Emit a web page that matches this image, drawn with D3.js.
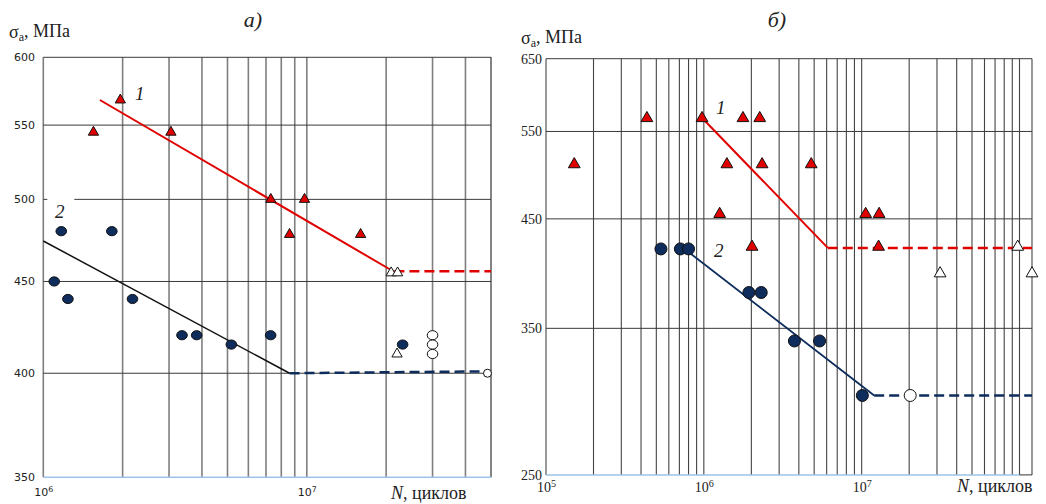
<!DOCTYPE html>
<html>
<head>
<meta charset="utf-8">
<script src="https://cdn.jsdelivr.net/npm/d3@7"></script>
<style>
  body { margin: 0; background: #fff; }
  svg { display: block; }
</style>
</head>
<body>
<div class="container"></div>
<script>
// ---- panel а) data ----
const aRedN = [1.55e6, 1.96e6, 3.05e6, 7.3e6, 9.8e6, 8.6e6, 1.6e7];
const aRedS = [545, 568, 545, 500, 500, 478, 478];
const aRedOpenN = [2.09e7, 2.21e7, 2.2e7];
const aRedOpenS = [455, 455, 410];
const aBlueN = [1.1e6, 1.17e6, 1.24e6, 1.82e6, 2.18e6, 3.36e6, 3.82e6, 5.17e6, 7.29e6, 2.31e7];
const aBlueS = [450, 480, 440, 480, 440, 420, 420, 415, 420, 415];
const aBlueOpenN = [3e7, 3e7, 3e7];
const aBlueOpenS = [420, 415, 410];
const aSmallOpenN = [4.85e7];
const aSmallOpenS = [400];
const aLine1N = [1.64e6, 2.15e7];
const aLine1S = [568, 455.5];
const aDash1N = [2.15e7, 5e7];
const aDash1S = [456, 456];
const aLine2N = [1e6, 8.6e6];
const aLine2S = [474, 400];
const aDash2N = [8.6e6, 4.85e7];
const aDash2S = [400, 401];
const aYTicks = [350, 400, 450, 500, 550, 600];
const aDecades = [1e6, 1e7];

// ---- panel б) data ----
const bRedN = [4.36e5, 9.74e5, 1.77e6, 2.26e6, 1.51e5, 1.4e6, 2.34e6, 4.79e6, 1.26e6, 1.06e7, 1.29e7, 2.02e6, 1.28e7];
const bRedS = [567, 567, 567, 567, 510, 510, 510, 510, 455, 455, 455, 422, 422];
const bRedOpenN = [9.74e7, 3.14e7, 1.2e8];
const bRedOpenS = [422, 397, 397];
const bBlueN = [5.35e5, 7.1e5, 8.0e5, 1.93e6, 2.31e6, 3.75e6, 5.41e6, 1.01e7];
const bBlueS = [420, 420, 420, 380, 380, 340, 340, 300];
const bBlueOpenN = [2.03e7];
const bBlueOpenS = [300];
const bLine1N = [1e6, 6.1e6];
const bLine1S = [565, 421];
const bDash1N = [6.1e6, 1.2e8];
const bDash1S = [421, 421];
const bLine2N = [8.0e5, 1.2e7];
const bLine2S = [417, 300];
const bDash2N = [1.2e7, 1.2e8];
const bDash2S = [300, 300];
const bYTicks = [250, 350, 450, 550, 650];
const bDecades = [1e5, 1e6, 1e7];

const width = 1046;
const height = 504;
const serif = '"Liberation Serif", "DejaVu Serif", serif';
const sans = '"DejaVu Sans", Verdana, sans-serif';
const red = "#e00000";
const navy = "#0e2c5c";

const svg = d3.select(".container")
  .append("svg")
  .attr("width", width)
  .attr("height", height)
  .attr("viewBox", `0 0 ${width} ${height}`);

const zip = (a, b) => a.map((v, i) => [v, b[i]]);

function drawPanel(p) {
  const x = d3.scaleLog().domain(p.xDomain).range(p.xRange);
  const y = d3.scaleLog().domain(p.yDomain).range(p.yRange);
  const g = svg.append("g");
  const [x0, x1] = p.xRange;
  const [yb, yt] = p.yRange;

  // vertical grid
  g.selectAll(".vg")
    .data(x.ticks().filter(t => x(t) > x0 + 1))
    .join("line")
    .attr("x1", d => x(d)).attr("x2", d => x(d))
    .attr("y1", yt).attr("y2", yb)
    .attr("stroke", p.vColor)
    .attr("stroke-width", p.vWidth);
  // left & right border
  g.append("line").attr("x1", x0).attr("x2", x0).attr("y1", yt).attr("y2", yb)
    .attr("stroke", p.vColor).attr("stroke-width", p.vWidth);
  g.append("line").attr("x1", x1).attr("x2", x1).attr("y1", yt).attr("y2", yb)
    .attr("stroke", p.vColor).attr("stroke-width", p.vWidth);

  // horizontal grid
  g.selectAll(".hg")
    .data(p.yTicks.slice(1))
    .join("line")
    .attr("x1", x0).attr("x2", x1)
    .attr("y1", d => y(d)).attr("y2", d => y(d))
    .attr("stroke", "#3a3a3a")
    .attr("stroke-width", 1);

  // bottom axis (light blue)
  g.append("line")
    .attr("x1", x0).attr("x2", p.axisEnd ? x(p.axisEnd) : x1)
    .attr("y1", yb).attr("y2", yb)
    .attr("stroke", "#9dc3e6").attr("stroke-width", 1.5);
  if (p.axisEnd) {
    g.append("line")
      .attr("x1", x(p.axisEnd)).attr("x2", x1)
      .attr("y1", yb).attr("y2", yb)
      .attr("stroke", "#333").attr("stroke-width", 1);
  }

  // white box behind curve label 2
  if (p.label2Box) {
    g.append("rect")
      .attr("x", x0 + 4).attr("y", y(p.label2Box) - 4)
      .attr("width", 27).attr("height", 8)
      .attr("fill", "#fff");
  }

  // y tick labels
  g.selectAll(".yl")
    .data(p.yTicks)
    .join("text")
    .attr("x", p.yLabelX)
    .attr("y", d => y(d))
    .attr("dy", "0.35em")
    .attr("text-anchor", "end")
    .style("font-family", p.tickFont)
    .style("font-size", p.tickSize)
    .attr("fill", "#222")
    .text(d => d);

  // x decade labels
  const xl = g.selectAll(".xl")
    .data(p.decades)
    .join("text")
    .attr("x", d => x(d) - 9)
    .attr("y", p.xLabelY)
    .style("font-family", p.tickFont)
    .style("font-size", p.tickSize)
    .attr("fill", "#222");
  xl.append("tspan").text("10");
  xl.append("tspan")
    .attr("dy", "-0.45em")
    .style("font-size", "0.72em")
    .text(d => Math.round(Math.log10(d)));

  // fitted lines
  const line = d3.line().x(d => x(d[0])).y(d => y(d[1]));
  g.append("path").datum(zip(p.line1N, p.line1S)).attr("d", line)
    .attr("fill", "none").attr("stroke", red).attr("stroke-width", 2);
  g.append("path").datum(zip(p.dash1N, p.dash1S)).attr("d", line)
    .attr("fill", "none").attr("stroke", red).attr("stroke-width", 2.5)
    .attr("stroke-dasharray", "10,5");
  g.append("path").datum(zip(p.line2N, p.line2S)).attr("d", line)
    .attr("fill", "none").attr("stroke", p.line2Color).attr("stroke-width", p.line2Width);
  g.append("path").datum(zip(p.dash2N, p.dash2S)).attr("d", line)
    .attr("fill", "none").attr("stroke", navy).attr("stroke-width", 2.5)
    .attr("stroke-dasharray", "10,5");

  // markers
  const tri = d3.symbol(d3.symbolTriangle, p.triSize);
  g.selectAll(".rt")
    .data(zip(p.redN, p.redS))
    .join("path")
    .attr("d", tri)
    .attr("transform", d => `translate(${x(d[0])},${y(d[1])})`)
    .attr("fill", red).attr("stroke", "#111").attr("stroke-width", 1);
  g.selectAll(".ot")
    .data(zip(p.redOpenN, p.redOpenS))
    .join("path")
    .attr("d", tri)
    .attr("transform", d => `translate(${x(d[0])},${y(d[1])})`)
    .attr("fill", "#fff").attr("stroke", "#111").attr("stroke-width", 1);
  g.selectAll(".bc")
    .data(zip(p.blueN, p.blueS))
    .join("ellipse")
    .attr("cx", d => x(d[0])).attr("cy", d => y(d[1]))
    .attr("rx", p.rx).attr("ry", p.ry)
    .attr("fill", navy).attr("stroke", "#111").attr("stroke-width", 1);
  g.selectAll(".oc")
    .data(zip(p.blueOpenN, p.blueOpenS))
    .join("ellipse")
    .attr("cx", d => x(d[0])).attr("cy", d => y(d[1]))
    .attr("rx", p.rx).attr("ry", p.ry)
    .attr("fill", "#fff").attr("stroke", "#111").attr("stroke-width", 1);
  if (p.smallOpenN) {
    g.selectAll(".sc")
      .data(zip(p.smallOpenN, p.smallOpenS))
      .join("circle")
      .attr("cx", d => x(d[0])).attr("cy", d => y(d[1]))
      .attr("r", 4)
      .attr("fill", "#fff").attr("stroke", "#111").attr("stroke-width", 1);
  }

  // curve numbers
  g.append("text").attr("x", p.label1[0]).attr("y", p.label1[1])
    .style("font-family", serif).style("font-style", "italic").style("font-size", "19px")
    .attr("fill", "#222").text("1");
  g.append("text").attr("x", p.label2[0]).attr("y", p.label2[1])
    .style("font-family", serif).style("font-style", "italic").style("font-size", "19px")
    .attr("fill", "#222").text("2");

  // panel title
  g.append("text").attr("x", p.titleX).attr("y", 27)
    .attr("text-anchor", "middle")
    .style("font-family", serif).style("font-style", "italic").style("font-size", "22px")
    .attr("fill", "#222").text(p.title);

  // y axis title
  const yt_ = g.append("text").attr("x", p.yTitle[0]).attr("y", p.yTitle[1])
    .style("font-family", serif).style("font-size", "18px").attr("fill", "#222");
  yt_.append("tspan").text("σ");
  yt_.append("tspan").attr("dy", "0.22em").style("font-size", "12px").text("а");
  yt_.append("tspan").attr("dy", "-0.22em").text(", МПа");

  // x axis title
  const xt = g.append("text").attr("x", p.xTitle[0]).attr("y", p.xTitle[1])
    .style("font-family", serif).style("font-size", "18px").attr("fill", "#222");
  xt.append("tspan").style("font-style", "italic").text("N");
  xt.append("tspan").text(", циклов");
}

drawPanel({
  xDomain: [1e6, 5e7], xRange: [43.3, 491],
  yDomain: [350, 600], yRange: [477.3, 57.3],
  yTicks: aYTicks, decades: aDecades,
  vColor: "#7f7f7f", vWidth: 1.6,
  tickFont: sans, tickSize: "11px", yLabelX: 35, xLabelY: 496,
  redN: aRedN, redS: aRedS, redOpenN: aRedOpenN, redOpenS: aRedOpenS,
  blueN: aBlueN, blueS: aBlueS, blueOpenN: aBlueOpenN, blueOpenS: aBlueOpenS,
  smallOpenN: aSmallOpenN, smallOpenS: aSmallOpenS,
  line1N: aLine1N, line1S: aLine1S, dash1N: aDash1N, dash1S: aDash1S,
  line2N: aLine2N, line2S: aLine2S, dash2N: aDash2N, dash2S: aDash2S,
  line2Color: "#111", line2Width: 1.5,
  triSize: 46, rx: 5.3, ry: 4.6,
  label2Box: 500,
  label1: [135, 100], label2: [55, 218],
  title: "а)", titleX: 253,
  yTitle: [9, 38], xTitle: [391, 499]
});

drawPanel({
  xDomain: [1e5, 1.2e8], xRange: [546, 1032],
  yDomain: [250, 650], yRange: [474.9, 58.7],
  yTicks: bYTicks, decades: bDecades,
  vColor: "#444", vWidth: 1.1,
  tickFont: serif, tickSize: "14px", yLabelX: 542, xLabelY: 492,
  axisEnd: 1e8,
  redN: bRedN, redS: bRedS, redOpenN: bRedOpenN, redOpenS: bRedOpenS,
  blueN: bBlueN, blueS: bBlueS, blueOpenN: bBlueOpenN, blueOpenS: bBlueOpenS,
  line1N: bLine1N, line1S: bLine1S, dash1N: bDash1N, dash1S: bDash1S,
  line2N: bLine2N, line2S: bLine2S, dash2N: bDash2N, dash2S: bDash2S,
  line2Color: navy, line2Width: 1.8,
  triSize: 60, rx: 6, ry: 6,
  label1: [716, 114], label2: [714, 257],
  title: "б)", titleX: 777,
  yTitle: [521, 44], xTitle: [957, 492]
});
</script>
</body>
</html>
